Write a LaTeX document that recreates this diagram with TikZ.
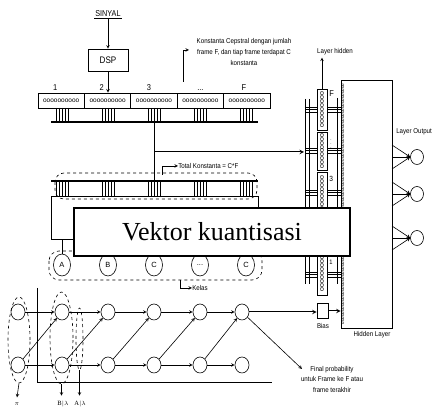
\documentclass[tikz,border=0pt]{standalone}
\usepackage{fontspec}
\setmainfont{Liberation Serif}
\setsansfont{Liberation Sans}
\usetikzlibrary{arrows.meta,shapes.geometric}

\begin{document}
\begin{tikzpicture}[x=1pt, y=-1pt, >=stealth, line width=0.6pt,
    lbl/.style={font=\sffamily\fontsize{7}{10.5}\selectfont, xscale=0.88, inner sep=0pt},
    num/.style={font=\sffamily\fontsize{8.5}{9}\selectfont, xscale=0.88, inner sep=0pt},
    cellbox/.style={draw, line width=0.8pt, minimum width=46.4pt, minimum height=15pt, inner sep=0pt, font=\sffamily\fontsize{6.5}{7}\selectfont},
    kelas/.style={draw, ellipse, minimum width=17pt, minimum height=22pt, inner sep=0pt, font=\sffamily\fontsize{7.5}{8}\selectfont},
    hstate/.style={draw, ellipse, minimum width=14pt, minimum height=16pt, inner sep=0pt},
    slot/.style={draw, fill=white, rotate=90, minimum height=10pt, inner sep=0pt, font=\sffamily\fontsize{7}{7}\selectfont},
    bar/.style={line width=1.2pt}]
    \useasboundingbox (0,0) rectangle (432,409);

    % sinyal dan DSP
    \node[font=\sffamily\fontsize{8.5}{9}\selectfont, xscale=0.85, inner sep=1pt] (sig) at (108,14) {SINYAL};
    \draw (sig.south west) -- (sig.south east);
    \node[draw, minimum width=40pt, minimum height=22pt] (dsp) at (108,60) {};
    \node[font=\sffamily\fontsize{9.5}{10}\selectfont, xscale=0.85] at (dsp) {DSP};

    % frame cepstral
    \foreach \i/\t/\s in {1/1/-6, 2/2/-6, 3/3/-5, 4/{...}/0, 5/F/-3} {
        \node[cellbox] (f\i) at ({61.2+46.4*(\i-1)},100.5) {oooooooooo};
        \node[num, anchor=south] at ([xshift=\s pt, yshift=2pt]f\i.north) {\t};
    }
    \draw[->] (sig.south) -- (dsp.north);
    \draw[->] (dsp.south) -- (dsp.south |- f2.north);

    \node[lbl, align=center] (konst) at (244,52) {Konstanta Cepstral dengan jumlah\\frame F, dan tiap frame terdapat C\\konstanta};
    \coordinate (konst-tag) at (183,82);
    \draw[->] (konst-tag) -- (183,50) -- (189,50);

    \foreach \c in {62,108,154,200,246} {
        \foreach \d in {-6,-3,0,3,6} {
            \draw ({\c+\d},108) -- ({\c+\d},122);
            \draw ({\c+\d},181) -- ({\c+\d},196);
        }
    }
    \draw[bar] (51,122) -- (258,122);
    \draw[bar] (51,181) -- (258,181);
    \draw (51,196) rectangle (258,239);
    \draw[dashed, rounded corners=9pt] (55,173) rectangle (257,199);

    \coordinate (tap) at (154,122);
    \coordinate (split) at (154,152);
    \coordinate (vq-in) at (154,181);
    \coordinate (nn-in) at (304,152);
    \draw[line width=1pt] (tap) -- (vq-in);
    \draw[->, line width=1pt] (split) -- (nn-in);

    \node[lbl, anchor=west] (total) at (178,166) {Total Konstanta = C*F};
    \coordinate (total-tag) at (162,175);
    \draw[->] (total-tag) |- (total.west);

    % kelas
    \draw[dashed, rounded corners=10pt] (49,251) rectangle (262,280);
    \foreach \n/\t/\x in {ka/A/62, kb/B/108, kc/C/154, kd/{...}/200, ke/C/246}
        \node[kelas] (\n) at (\x,265) {\t};
    \coordinate (ka-up) at (62,239);
    \draw (ka.north) -- (ka-up);
    \node[lbl, anchor=west] (kelastxt) at (192,288) {Kelas};
    \coordinate (kelas-tag) at (180,280);
    \draw[->] (kelas-tag) |- (kelastxt.west);

    % jaringan saraf
    \foreach \r in {107,148,190,272}
        \foreach \d in {0,2.5,5}
            \draw (305,{\r+\d}) -- (343,{\r+\d});
    \draw (305,99) -- (305,284);
    \draw (309,99) -- (309,284);
    \draw (337,98) -- (337,284);
    \node[slot, minimum width=41pt] (cF) at (322,109.5) {ooooooooo};
    \node[slot, minimum width=38pt] (cdots) at (322,151) {ooooooooo};
    \node[slot, minimum width=42pt] (c3) at (322,193) {ooooooooo};
    \node[slot, minimum width=43pt] (c1) at (322,273.5) {ooooooooo};
    \node[num, anchor=west] at (329,94) {F};
    \node[num, font=\sffamily\fontsize{5}{6}\selectfont, anchor=west] at (330,141) {$\vdots$};
    \node[num, font=\sffamily\fontsize{7.5}{8}\selectfont, anchor=west] at (329,179) {3};
    \node[num, font=\sffamily\fontsize{6.5}{7}\selectfont, anchor=west] at (329,262) {1};

    \node[draw, minimum width=51pt, minimum height=248pt, inner sep=0pt] (hid) at (366.5,204) {};
    \node[rotate=90, font=\sffamily\fontsize{4.5}{5}\selectfont, inner sep=0pt, fill=white] at (343,204) {\foreach \k in {1,...,96}{o}};
    \node[lbl] at (372,335) {Hidden Layer};
    \node[lbl] (lh) at (335,52) {Layer hidden};
    \draw[->] (cF.east) -- ([yshift=-2pt]cF.east |- lh.south);

    \node[lbl, anchor=west] at (396,132) {Layer Output};
    \foreach \n/\y in {o1/157, o2/194, o3/238} {
        \node[hstate, minimum width=13pt, minimum height=15pt] (\n) at (417,\y) {};
        \foreach \d in {-12,0,12}
            \draw[->] (392,{\y+\d}) -- (\n.west);
    }

    % vektor kuantisasi
    \node[draw, line width=1.5pt, fill=white, minimum width=276pt, minimum height=48pt,
          font=\fontsize{26}{30}\selectfont] (vq) at (212,232) {Vektor kuantisasi};

    % HMM
    \draw (37,288) -- (37,382) -- (272,382);
    \foreach \i/\x in {1/18,2/62,3/108,4/154,5/200,6/242} {
        \node[hstate] (t\i) at (\x,312) {};
        \node[hstate] (b\i) at (\x,365) {};
    }
    \foreach \i in {1,...,5} {
        \pgfmathtruncatemacro\j{\i+1}
        \draw[->] (t\i) -- (t\j);
        \draw[->] (b\i) -- (b\j);
        \draw[->] (b\i) -- (t\j);
    }
    \node[draw, dashed, ellipse, minimum width=22pt, minimum height=86pt, inner sep=0pt] (e1) at (19,340) {};
    \node[draw, dashed, ellipse, minimum width=23pt, minimum height=92pt, inner sep=0pt] (e2) at (61.5,338) {};
    \node[draw, dashed, ellipse, minimum width=7pt, minimum height=62pt, inner sep=0pt] (e3) at (79.5,339) {};
    \node[font=\fontsize{6.5}{7}\selectfont, inner sep=0pt] (pil) at (17,404) {$\pi$};
    \node[font=\fontsize{6.5}{7}\selectfont, inner sep=0pt] (bl) at (63,404) {B$|\lambda$};
    \node[font=\fontsize{6.5}{7}\selectfont, inner sep=0pt] (al) at (80,404) {A$|\lambda$};
    \draw[->] (e1.south) -- ([yshift=5pt]pil.north);
    \draw[->] (e2.south) -- ([yshift=5pt]e2.south |- bl.north);
    \draw[->] (e3.south) -- ([yshift=5pt]e3.south |- al.north);

    \node[draw, minimum width=11pt, minimum height=15pt, inner sep=0pt] (bias) at (322.5,311) {};
    \node[lbl] at (323,326) {Bias};
    \draw[->, line width=1pt] (t6) -- (t6 -| bias.west);
    \draw[->, line width=1pt] (bias) -- (bias -| hid.west);

    \node[lbl, align=center] (final) at (332,379) {Final probability\\untuk Frame ke F atau\\frame terakhir};
    \coordinate (final-tip) at (302,369);
    \draw[->] (t6) -- (final-tip);
\end{tikzpicture}
\end{document}
